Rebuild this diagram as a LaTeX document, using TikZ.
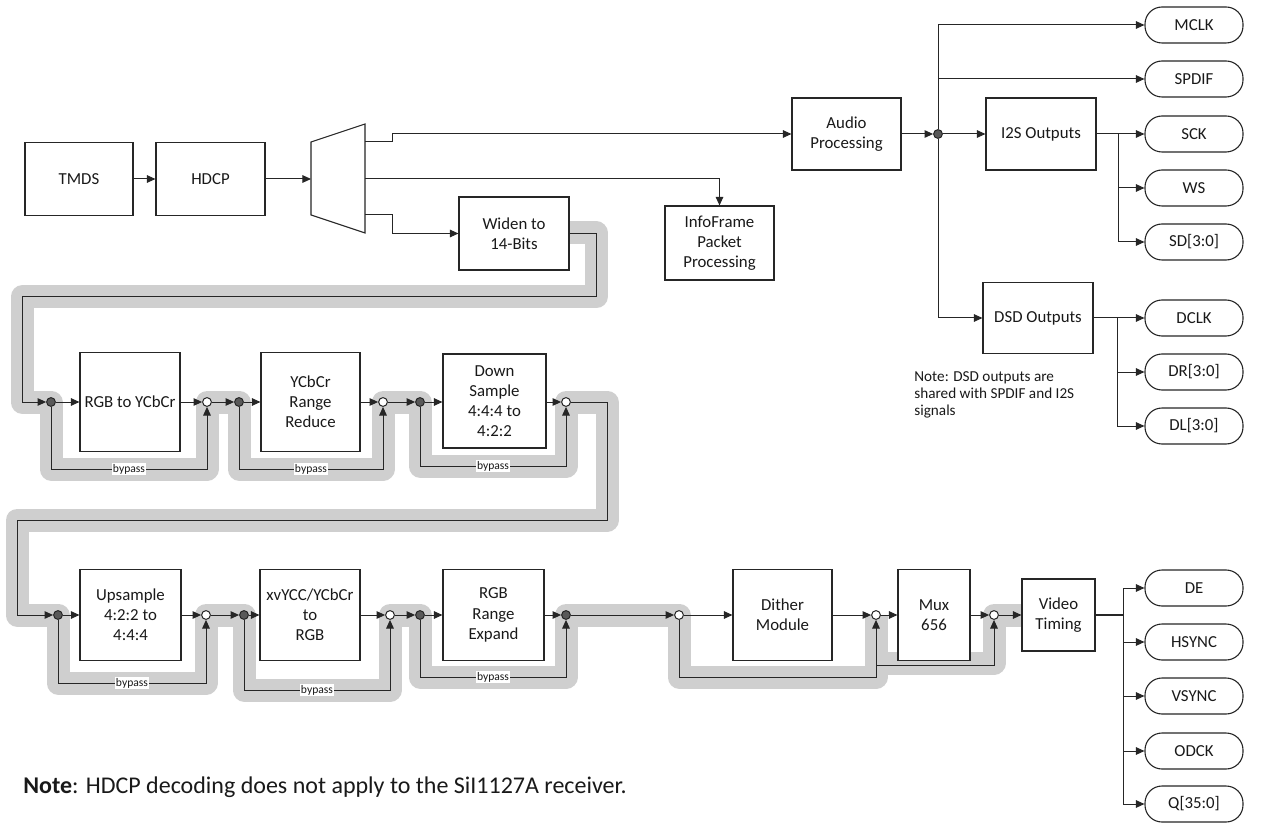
\documentclass[tikz,border=0pt]{standalone}
\usepackage{fontspec}
\setmainfont{Carlito}
\usetikzlibrary{arrows.meta}
\begin{document}
\begin{tikzpicture}[x=0.5pt,y=-0.5pt,
  every node/.style={font=\fontsize{8.4}{10.1}\selectfont, text=black!90},
  box/.style 2 args={draw=black!85, line width=0.55pt, fill=white, align=center, inner sep=1pt, minimum width=#1*0.5pt, minimum height=#2*0.5pt},
  pill/.style={draw=black!85, line width=0.55pt, fill=white, rounded corners=8.5pt, minimum width=49pt, minimum height=18pt, inner sep=1pt},
  conn/.style={draw=black!85, line width=0.5pt},
  arr/.style={conn, -{Triangle[length=4.3pt,width=3.8pt]}},
  sdot/.style={circle, draw=black!85, line width=0.5pt, fill=black!65, minimum size=4.4pt, inner sep=0pt},
  odot/.style={circle, draw=black!85, line width=0.5pt, fill=white, minimum size=4.4pt, inner sep=0pt},
  band/.style={draw=black!19, line width=11.5pt, line join=round},
  bp/.style={fill=white, inner sep=0.4pt, font=\fontsize{5.8}{6.5}\selectfont}
]
\useasboundingbox (0,0) rectangle (1262,823);

% gray video-path band
\draw[band] (560,233) -- (596,233) -- (596,297) -- (22,297) -- (22,402) -- (51,402)
  -- (51,469) -- (207,469) -- (207,402) -- (239,402) -- (239,469) -- (383,469)
  -- (383,402) -- (420,402) -- (420,466) -- (566,466) -- (566,402) -- (607,402)
  -- (607,520) -- (17,520) -- (17,615) -- (58,615) -- (58,683) -- (206,683)
  -- (206,615) -- (244,615) -- (244,690) -- (390,690) -- (390,615) -- (420,615)
  -- (420,677) -- (566,677) -- (566,615) -- (679,615) -- (679,677) -- (876,677)
  -- (876,615);
\draw[band] (876,663) -- (994,663) -- (994,615) -- (1030,615);

% top blocks
\node[box={108}{73}] (tmds) at (79,179) {TMDS};
\node[box={109}{73}] (hdcp) at (210.5,179) {HDCP};
\draw[draw=black!85, line width=0.55pt, fill=white] (311,142) -- (365,124) -- (365,233) -- (311,215) -- cycle;
\coordinate (muxin) at (311,179);
\coordinate (mo1) at (365,142);
\coordinate (mo2) at (365,179);
\coordinate (mo3) at (365,215);
\coordinate (k1) at (392,142);
\coordinate (k3) at (392,215);
\node[box={110}{73}] (widen) at (514,233.5) {Widen to\\14-Bits};
\node[box={109}{72}] (audio) at (846.5,134) {Audio\\Processing};
\node[box={109}{74}] (info) at (719.5,243) {InfoFrame\\Packet\\Processing};
\node[box={110}{72}] (i2s) at (1041,134) {I2S Outputs};
\node[box={110}{71}] (dsd) at (1038,318) {DSD Outputs};
\node[sdot] (ad) at (938,134) {};

% pills
\node[pill] (mclk) at (1194,25) {MCLK};
\node[pill] (spdif) at (1194,79) {SPDIF};
\node[pill] (sck) at (1194,134) {SCK};
\node[pill] (ws) at (1194,188) {WS};
\node[pill] (sd) at (1194,242) {SD[3:0]};
\node[pill] (dclk) at (1194,318) {DCLK};
\node[pill] (dr) at (1194,372) {DR[3:0]};
\node[pill] (dl) at (1194,426) {DL[3:0]};
\node[pill] (de) at (1194,588) {DE};
\node[pill] (hsync) at (1194,642) {HSYNC};
\node[pill] (vsync) at (1194,696) {VSYNC};
\node[pill] (odck) at (1194,751) {ODCK};
\node[pill] (q) at (1194,804) {Q[35:0]};

\node[anchor=north west, align=left, inner sep=0pt, font=\fontsize{7.6}{8.6}\selectfont] (dsdnote) at (914,371)
  {Note: DSD outputs are\\shared with SPDIF and I2S\\signals};

% top connectors
\draw[arr] (tmds) -- (hdcp);
\draw[arr] (hdcp) -- (muxin);
\draw[arr] (mo1) -- (k1) |- (audio);
\draw[arr] (mo2) -| (info);
\draw[arr] (mo3) -- (k3) |- (widen);
\draw[arr] (audio) -- (ad);
\draw[arr] (ad) -- (i2s);
\draw[arr] (ad) |- (mclk);
\draw[arr] (ad) |- (spdif);
\draw[arr] (ad) |- (dsd);
\coordinate (ib) at (1118,134);
\draw[conn] (i2s) -- (ib);
\draw[arr] (ib) -- (sck);
\draw[arr] (ib) |- (ws);
\draw[arr] (ib) |- (sd);
\coordinate (db) at (1117,318);
\draw[conn] (dsd) -- (db);
\draw[arr] (db) -- (dclk);
\draw[arr] (db) |- (dr);
\draw[arr] (db) |- (dl);

% row 1
\node[sdot] (d1) at (51,402) {};
\node[box={100}{99}] (rgb2y) at (130,402) {RGB to YCbCr};
\node[odot] (o1) at (207,402) {};
\node[sdot] (d2) at (239,402) {};
\node[box={99}{99}] (yrr) at (310.5,402) {YCbCr\\Range\\Reduce};
\node[odot] (o2) at (383,402) {};
\node[sdot] (d3) at (420,402) {};
\node[box={103}{94}] (down) at (494.5,401) {Down\\Sample\\4:4:4 to\\4:2:2};
\node[odot] (o3) at (566,402) {};
\coordinate (w1) at (596,297);
\coordinate (w2) at (22,297);
\coordinate (t1) at (607,520);
\coordinate (t2) at (17,520);

% row 2 nodes
\node[sdot] (d4) at (58,615) {};
\node[box={101}{91}] (ups) at (130.5,615) {Upsample\\4:2:2 to\\4:4:4};
\node[odot] (o4) at (206,615) {};
\node[sdot] (d5) at (244,615) {};
\node[box={100}{91}] (xv) at (310,615) {xvYCC/YCbCr\\to\\RGB};
\node[odot] (o5) at (390,615) {};
\node[sdot] (d6) at (420,615) {};
\node[box={101}{91}] (rre) at (493.5,615) {RGB\\Range\\Expand};
\node[sdot] (d7) at (566,615) {};
\node[odot] (o6) at (679,615) {};
\node[box={99}{91}] (dither) at (782.5,615) {Dither\\Module};
\node[odot] (o7) at (876,615) {};
\node[box={72}{91}] (mux) at (934,615) {Mux\\656};
\node[odot] (o8) at (994,615) {};
\node[box={73}{72}] (vt) at (1058.5,615) {Video\\Timing};
\coordinate (mb) at (876,665);
\coordinate (vb) at (1123,615);

% row 1 connectors
\draw[arr] (widen) -| (w1) -- (w2) |- (d1);
\draw[arr] (d1) -- (rgb2y);
\draw[arr] (rgb2y) -- (o1);
\draw[arr] (o1) -- (d2);
\draw[arr] (d2) -- (yrr);
\draw[arr] (yrr) -- (o2);
\draw[arr] (o2) -- (d3);
\draw[arr] (d3) -- (down.west |- d3);
\draw[arr] (down.east |- o3) -- (o3);
\draw[arr] (d1) -- ++(0,67) -| node[bp,pos=0.25]{bypass} (o1);
\draw[arr] (d2) -- ++(0,67) -| node[bp,pos=0.25]{bypass} (o2);
\draw[arr] (d3) -- ++(0,64) -| node[bp,pos=0.25]{bypass} (o3);
\draw[arr] (o3) -| (t1) -- (t2) |- (d4);

% row 2 connectors
\draw[arr] (d4) -- (ups);
\draw[arr] (ups) -- (o4);
\draw[arr] (o4) -- (d5);
\draw[arr] (d5) -- (xv);
\draw[arr] (xv) -- (o5);
\draw[arr] (o5) -- (d6);
\draw[arr] (d6) -- (rre);
\draw[arr] (rre) -- (d7);
\draw[arr] (d7) -- (o6);
\draw[arr] (o6) -- (dither);
\draw[arr] (dither) -- (o7);
\draw[arr] (o7) -- (mux);
\draw[arr] (mux) -- (o8);
\draw[arr] (o8) -- (vt);
\draw[arr] (d4) -- ++(0,68) -| node[bp,pos=0.25]{bypass} (o4);
\draw[arr] (d5) -- ++(0,75) -| node[bp,pos=0.25]{bypass} (o5);
\draw[arr] (d6) -- ++(0,62) -| node[bp,pos=0.25]{bypass} (d7);
\draw[arr] (o6) -- ++(0,62) -| (o7);
\draw[arr] (mb) -| (o8);

\draw[conn, line width=1pt] (vt) -- (vb);
\draw[arr] (vb) |- (de);
\draw[arr] (vb) |- (hsync);
\draw[arr] (vb) |- (vsync);
\draw[arr] (vb) |- (odck);
\draw[arr] (vb) |- (q);

\node[anchor=west, inner sep=0pt, font=\fontsize{12}{14}\selectfont] (note) at (23,787)
  {\textbf{Note}: HDCP decoding does not apply to the SiI1127A receiver.};
\end{tikzpicture}
\end{document}
